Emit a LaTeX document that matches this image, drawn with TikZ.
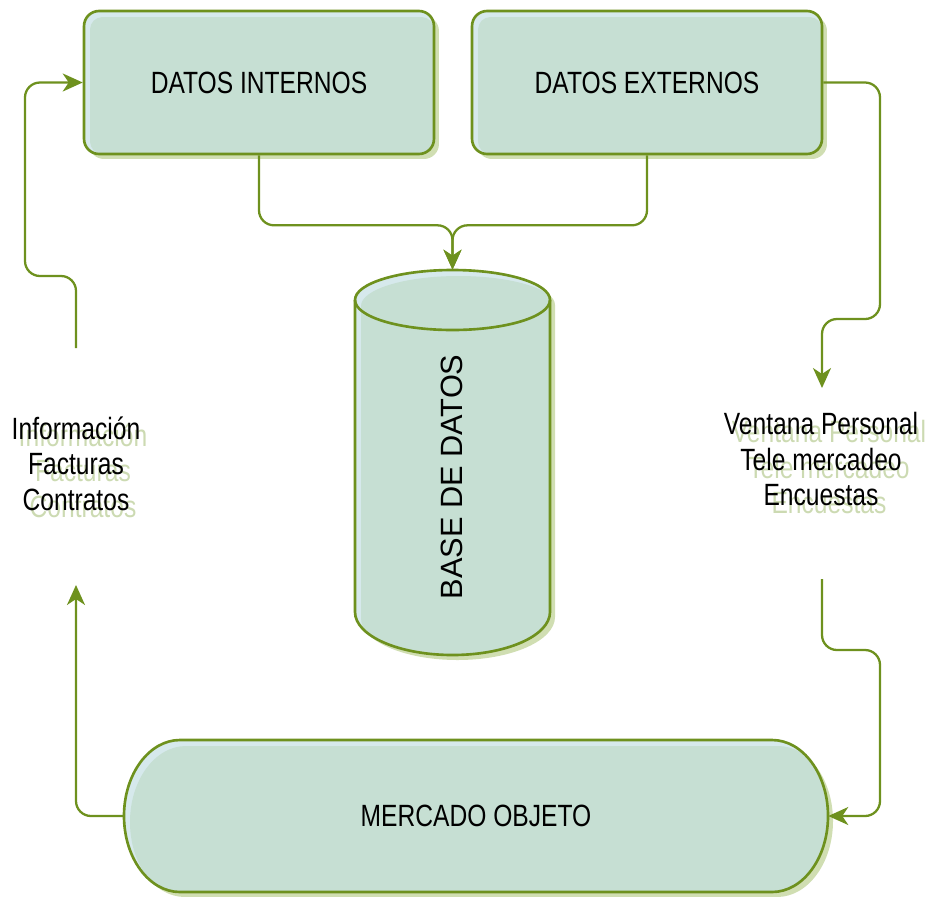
\documentclass[tikz,border=0pt]{standalone}
\usepackage{fontspec}
\setmainfont{Liberation Sans}
\newfontfamily\narrowfont{Liberation Sans}[FakeStretch=0.8]
\usetikzlibrary{arrows.meta, positioning, shadows}

\definecolor{linegreen}{RGB}{110,145,30}
\definecolor{boxfill}{RGB}{198,223,211}
\definecolor{boxedge}{RGB}{214,233,236}
\definecolor{shadowgreen}{RGB}{208,222,178}
\definecolor{ghostgreen}{RGB}{204,218,178}

\newcommand{\dbpath}{(355,300) arc[start angle=180, end angle=360, x radius=97.5, y radius=30]
  -- (550,612) arc[start angle=0, end angle=180, x radius=97.5, y radius=43] -- cycle}
\newcommand{\mercadopath}{(180,740) -- (772,740) arc[start angle=-90, end angle=90, x radius=56, y radius=76]
  -- (180,892) arc[start angle=90, end angle=270, x radius=56, y radius=76] -- cycle}

\tikzset{
  labeltext/.style={font=\narrowfont\fontsize{17.5}{20.2}\selectfont, align=center},
  databox/.style={labeltext, draw=linegreen, line width=1.5pt, rounded corners=0.3cm,
    minimum width=7cm, minimum height=2.86cm, fill=boxedge,
    drop shadow={shadow xshift=0.1cm, shadow yshift=-0.1cm, fill=shadowgreen, opacity=1},
    path picture={\fill[boxfill, rounded corners=0.25cm]
      ([shift={(0.12cm,-0.12cm)}]path picture bounding box.north west) rectangle
      (path picture bounding box.south east);}},
  conn/.style={draw=linegreen, line width=1.3pt, rounded corners=0.3cm,
    -{Stealth[length=0.4cm, width=0.36cm, inset=0.12cm]}},
  ghost/.style={labeltext, text=ghostgreen},
}

\begin{document}
\begin{tikzpicture}[x=0.02cm, y=-0.02cm]
\useasboundingbox (0,0) rectangle (925,896);

% Datos internos y externos
\node[databox] (di) at (259,82.5) {DATOS INTERNOS};
\node[databox] (de) at (647,82.5) {DATOS EXTERNOS};

% Base de datos
\fill[shadowgreen, shift={(5,5)}] \dbpath;
\fill[boxedge] \dbpath;
\begin{scope}
  \clip \dbpath;
  \fill[boxfill, shift={(6,6)}] \dbpath;
\end{scope}
\draw[linegreen, line width=1.5pt] \dbpath;
\draw[linegreen, line width=1.5pt] (355,300) arc[start angle=180, end angle=0, x radius=97.5, y radius=30];
\node[minimum width=3.9cm, minimum height=7.7cm] (db) at (452.5,462.5) {};
\node[rotate=90, font=\fontsize{17.5}{20}\selectfont] (dbtext) at (452,477) {BASE DE DATOS};

% Mercado objeto
\fill[shadowgreen, shift={(5,5)}] \mercadopath;
\fill[boxedge] \mercadopath;
\begin{scope}
  \clip \mercadopath;
  \fill[boxfill, shift={(6,6)}] \mercadopath;
\end{scope}
\draw[linegreen, line width=1.5pt] \mercadopath;
\node[labeltext, minimum width=14.08cm, minimum height=3.04cm] (mercado) at (476,816) {MERCADO OBJETO};

% Textos laterales
\node[ghost] (infoghost) at (83,470.5) {Información\\Facturas\\Contratos};
\node[labeltext] (info) at (76,463.5) {Información\\Facturas\\Contratos};
\node[ghost] (ventghost) at (829,467) {Ventana Personal\\Tele mercadeo\\Encuestas};
\node[labeltext] (vent) at (821,459) {Ventana Personal\\Tele mercadeo\\Encuestas};

% Conectores
\coordinate (ventin) at (822,388);
\coordinate (ventout) at (822,579);
\coordinate (infoin) at (76,585);
\coordinate (infoout) at (76,348);
\draw[conn] (di.south) -- ++(0,70) -| (db.north);
\draw[conn] (de.south) -- ++(0,70) -| (db.north);
\draw[conn] (de.east) -| (880,319) -| (ventin);
\draw[conn] (ventout) |- (880,650) |- (mercado.east);
\draw[conn] (mercado.west) -| (infoin);
\draw[conn] (infoout) |- (25,276) |- (di.west);
\end{tikzpicture}
\end{document}
